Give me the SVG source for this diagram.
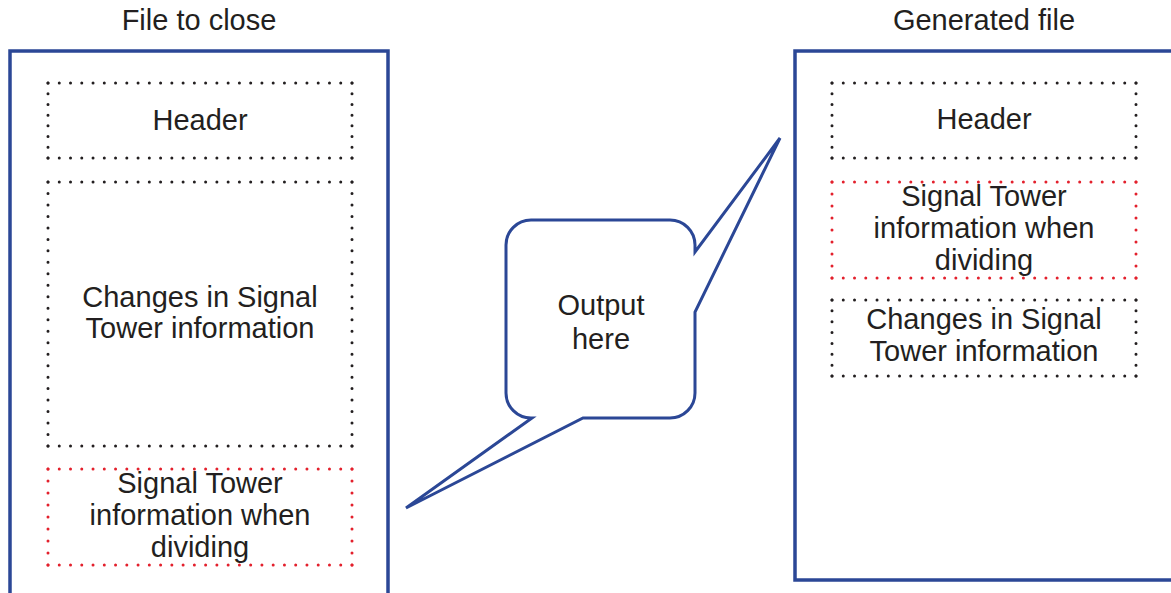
<svg xmlns="http://www.w3.org/2000/svg" width="1171" height="593" viewBox="0 0 1171 593">
<style>
text{font-family:"Liberation Sans",Arial,sans-serif;font-size:29px;fill:#231f20;text-anchor:middle}
.frame{fill:none;stroke:#2b4796;stroke-width:3.5}
.call{fill:#fff;stroke:#2b4796;stroke-width:3;stroke-linejoin:miter}
.dk line{stroke:#231f20;stroke-width:3;stroke-linecap:round}
.rd line{stroke:#e3202c;stroke-width:3;stroke-linecap:round}
</style>
<rect width="1171" height="593" fill="#fff"/>

<g id="file-to-close">
<text x="199" y="30">File to close</text>
<rect class="frame" x="10" y="51" width="378" height="560"/>
</g>

<g id="generated-file">
<text x="984" y="30">Generated file</text>
<rect class="frame" x="795" y="51" width="400" height="529"/>
</g>

<g id="left-header" class="dk">
<line x1="48" y1="83" x2="352.1" y2="83" stroke-dasharray="0 11.259"/>
<line x1="48" y1="158" x2="352.1" y2="158" stroke-dasharray="0 11.259"/>
<line x1="48" y1="83" x2="48" y2="158.1" stroke-dasharray="0 10.714"/>
<line x1="352" y1="83" x2="352" y2="158.1" stroke-dasharray="0 10.714"/>
<text x="200" y="130">Header</text>
</g>

<g id="left-changes" class="dk">
<line x1="48" y1="182" x2="352.1" y2="182" stroke-dasharray="0 11.259"/>
<line x1="48" y1="446" x2="352.1" y2="446" stroke-dasharray="0 11.259"/>
<line x1="48" y1="182" x2="48" y2="446.1" stroke-dasharray="0 11.478"/>
<line x1="352" y1="182" x2="352" y2="446.1" stroke-dasharray="0 11.478"/>
<text x="200" y="307">Changes in Signal</text>
<text x="200" y="338">Tower information</text>
</g>

<g id="left-dividing" class="rd">
<line x1="48" y1="469" x2="352.1" y2="469" stroke-dasharray="0 11.259"/>
<line x1="48" y1="565" x2="352.1" y2="565" stroke-dasharray="0 11.259"/>
<line x1="48" y1="469" x2="48" y2="565.1" stroke-dasharray="0 12"/>
<line x1="352" y1="469" x2="352" y2="565.1" stroke-dasharray="0 12"/>
<text x="200" y="493">Signal Tower</text>
<text x="200" y="525">information when</text>
<text x="200" y="557">dividing</text>
</g>

<g id="right-header" class="dk">
<line x1="832" y1="83" x2="1136.1" y2="83" stroke-dasharray="0 11.259"/>
<line x1="832" y1="158" x2="1136.1" y2="158" stroke-dasharray="0 11.259"/>
<line x1="832" y1="83" x2="832" y2="158.1" stroke-dasharray="0 10.714"/>
<line x1="1136" y1="83" x2="1136" y2="158.1" stroke-dasharray="0 10.714"/>
<text x="984" y="129">Header</text>
</g>

<g id="right-dividing" class="rd">
<line x1="832" y1="182" x2="1136.1" y2="182" stroke-dasharray="0 11.259"/>
<line x1="832" y1="278" x2="1136.1" y2="278" stroke-dasharray="0 11.259"/>
<line x1="832" y1="182" x2="832" y2="278.1" stroke-dasharray="0 12"/>
<line x1="1136" y1="182" x2="1136" y2="278.1" stroke-dasharray="0 12"/>
<text x="984" y="206">Signal Tower</text>
<text x="984" y="238">information when</text>
<text x="984" y="270">dividing</text>
</g>

<g id="right-changes" class="dk">
<line x1="832" y1="300" x2="1136.1" y2="300" stroke-dasharray="0 11.259"/>
<line x1="832" y1="376" x2="1136.1" y2="376" stroke-dasharray="0 11.259"/>
<line x1="832" y1="300" x2="832" y2="376.1" stroke-dasharray="0 10.857"/>
<line x1="1136" y1="300" x2="1136" y2="376.1" stroke-dasharray="0 10.857"/>
<text x="984" y="329">Changes in Signal</text>
<text x="984" y="361">Tower information</text>
</g>

<g id="output-callout">
<path class="call" d="M531 220 H670 A25 25 0 0 1 695 245 V252 L780 138 L695 312 V393 A25 25 0 0 1 670 418 H583 L406 508 L532 418 H531 A25 25 0 0 1 506 393 V245 A25 25 0 0 1 531 220 Z"/>
<text x="601" y="315">Output</text>
<text x="601" y="349">here</text>
</g>
</svg>
